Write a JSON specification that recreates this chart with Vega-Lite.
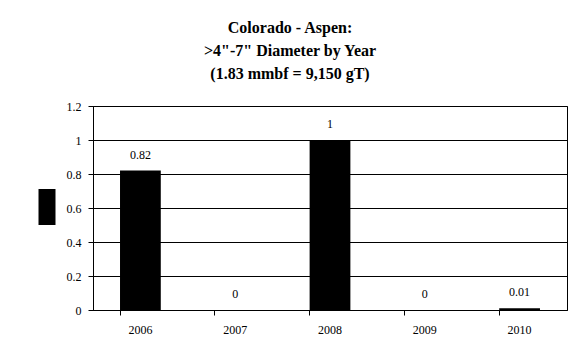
{
  "$schema": "https://vega.github.io/schema/vega-lite/v6.json",
  "autosize": {"type": "none"},
  "width": 474,
  "height": 204,
  "padding": {"left": 93, "top": 106, "right": 14, "bottom": 52},
  "background": "white",
  "title": {
    "text": ["Colorado - Aspen:", ">4\"-7\" Diameter by Year", "(1.83 mmbf = 9,150 gT)"],
    "lineHeight": 23,
    "anchor": "middle",
    "frame": "group",
    "dx": -40,
    "offset": 18
  },
  "data": {
    "values": [
      {"year": "2006", "value": 0.82, "label": "0.82", "s": ""},
      {"year": "2007", "value": 0, "label": "0", "s": ""},
      {"year": "2008", "value": 1, "label": "1", "s": ""},
      {"year": "2009", "value": 0, "label": "0", "s": ""},
      {"year": "2010", "value": 0.01, "label": "0.01", "s": ""}
    ]
  },
  "encoding": {
    "x": {
      "field": "year",
      "type": "nominal",
      "title": null,
      "scale": {"paddingInner": 0.57, "paddingOuter": 0.285},
      "axis": {
        "labelAngle": 0,
        "bandPosition": 0,
        "labelFont": "Liberation Serif",
        "labelFontSize": 12,
        "labelColor": "#000",
        "labelPadding": 9,
        "domainColor": "#000",
        "tickColor": "#000",
        "tickSize": 5,
        "grid": false
      }
    },
    "y": {
      "field": "value",
      "type": "quantitative",
      "title": null,
      "scale": {"domain": [0, 1.2], "nice": false},
      "axis": {
        "values": [0, 0.2, 0.4, 0.6, 0.8, 1, 1.2],
        "format": "~g",
        "labelFont": "Liberation Serif",
        "labelFontSize": 12,
        "labelColor": "#000",
        "labelPadding": 7,
        "domainColor": "#000",
        "tickColor": "#000",
        "tickSize": 5,
        "grid": true,
        "gridColor": "#000",
        "gridWidth": 1
      }
    }
  },
  "layer": [
    {
      "mark": {"type": "bar", "color": "#000"},
      "encoding": {
        "color": {
          "field": "s",
          "type": "nominal",
          "scale": {"range": ["#000"]},
          "legend": {
            "title": null,
            "orient": "none",
            "legendX": -63,
            "legendY": 84,
            "padding": 0,
            "symbolType": "M-0.5,-1.06L0.5,-1.06L0.5,1.06L-0.5,1.06Z",
            "symbolSize": 1156,
            "symbolStrokeWidth": 0,
            "symbolFillColor": "#000",
            "labelFontSize": 1,
            "labelLimit": 1
          }
        }
      }
    },
    {
      "mark": {"type": "text", "baseline": "bottom", "dy": -9, "font": "Liberation Serif", "fontSize": 12, "fill": "#000", "color": "#000"},
      "encoding": {"text": {"field": "label"}}
    }
  ],
  "config": {
    "view": {"stroke": "#000", "strokeWidth": 1},
    "title": {"font": "Liberation Serif", "fontSize": 16, "fontWeight": "bold", "color": "#000"}
  }
}
